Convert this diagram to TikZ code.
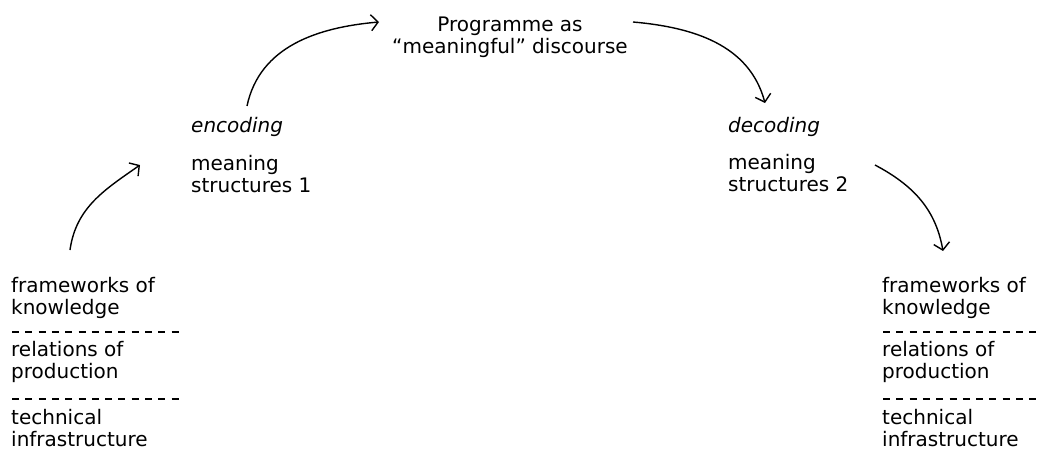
\documentclass[tikz,border=0pt]{standalone}
\usepackage{fontspec}
\setmainfont{DejaVu Sans}
\usetikzlibrary{arrows.meta}

\begin{document}
\begin{tikzpicture}[x=1pt, y=-1pt,
    txt/.style={anchor=north west, inner sep=0pt, align=left, font=\fontsize{20}{22}\selectfont},
    sep/.style={dash pattern=on 7pt off 6.3pt, line width=1.2pt},
    arr/.style={-{Straight Barb[length=7pt,width=16pt]}, line width=1.4pt}
]
\useasboundingbox (0,0) rectangle (1039,452);

% message in the middle
\node[txt, anchor=north, align=center] (prog) at (510,17) {Programme as\\“meaningful” discourse};

% encoding side
\node[txt] (enc) at (191,117) {\itshape encoding};
\node[txt] (ms1) at (191,155) {meaning\\structures 1};

% decoding side
\node[txt] (dec) at (728,117) {\itshape decoding};
\node[txt] (ms2) at (728,154) {meaning\\structures 2};

% left stack
\node[txt] (fkL) at (11,277) {frameworks of\\knowledge};
\node[txt] (rpL) at (11,341) {relations of\\production};
\node[txt] (tiL) at (11,409) {technical\\infrastructure};
\coordinate (s1L) at (12,332);  \coordinate (s1Le) at (184,332);
\coordinate (s2L) at (12,399);  \coordinate (s2Le) at (184,399);
\draw[sep] (s1L) -- (s1Le);
\draw[sep] (s2L) -- (s2Le);

% right stack
\node[txt] (fkR) at (882,277) {frameworks of\\knowledge};
\node[txt] (rpR) at (882,341) {relations of\\production};
\node[txt] (tiR) at (882,409) {technical\\infrastructure};
\coordinate (s1R) at (883,332);  \coordinate (s1Re) at (1045,332);
\coordinate (s2R) at (883,399);  \coordinate (s2Re) at (1045,399);
\draw[sep] (s1R) -- (s1Re);
\draw[sep] (s2R) -- (s2Re);

% arrow ends
\coordinate (srcL) at (70,250);
\coordinate (encIn) at (140,165);
\coordinate (encOut) at (247,106);
\coordinate (progIn) at (379,22);
\coordinate (progOut) at (633,22);
\coordinate (decIn) at (765,103);
\coordinate (decOut) at (875,165);
\coordinate (dstR) at (943,251);

\draw[arr] (srcL) to[out=82, in=215] (encIn);
\draw[arr] (encOut) to[out=78, in=185] (progIn);
\draw[arr] (progOut) to[out=-5, in=105] (decIn);
\draw[arr] (decOut) to[out=-28, in=100] (dstR);
\end{tikzpicture}
\end{document}
